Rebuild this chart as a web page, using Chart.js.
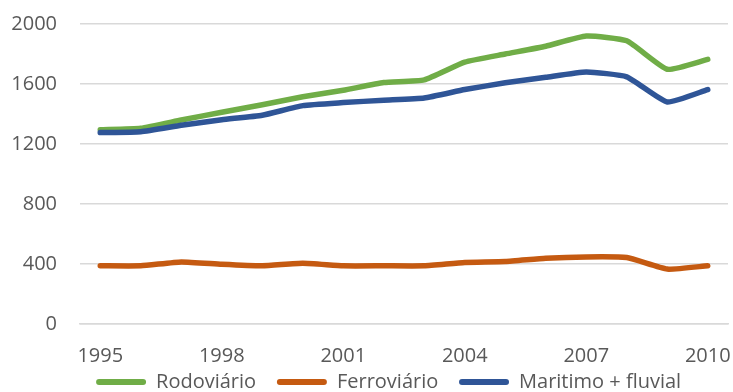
<!DOCTYPE html>
<html>
<head>
<meta charset="utf-8">
<script src="https://cdn.jsdelivr.net/npm/chart.js@4"></script>
<style>
  body { margin: 0; background: #fff; }
  #wrap { width: 733px; height: 392px; }
</style>
</head>
<body>
<div id="wrap"><canvas id="myChart" width="733" height="392"></canvas></div>
<script>
var anos = ['1995', '1996', '1997', '1998', '1999', '2000', '2001', '2002',
            '2003', '2004', '2005', '2006', '2007', '2008', '2009', '2010'];
var rodoviario  = [1295, 1305, 1360, 1412, 1462, 1515, 1558, 1610, 1628, 1746, 1800, 1852, 1920, 1888, 1698, 1764];
var ferroviario = [388, 388, 414, 398, 388, 405, 388, 388, 388, 410, 416, 438, 447, 443, 366, 388];
var maritimo    = [1276, 1282, 1325, 1362, 1392, 1456, 1476, 1492, 1507, 1563, 1608, 1645, 1680, 1648, 1480, 1563];
var yTicks = [0, 400, 800, 1200, 1600, 2000];

var cinza = '#595959';
var fonte = { family: 'Open Sans', size: 20 };

function serie(label, data, cor, ordem) {
  return {
    label: label,
    data: data,
    borderColor: cor,
    backgroundColor: cor,
    borderWidth: 5.5,
    pointRadius: 0,
    tension: 0.15,
    borderCapStyle: 'round',
    borderJoinStyle: 'round',
    order: ordem
  };
}

// legenda: um pouco mais para a direita e para baixo
var legendaDesloca = {
  id: 'legendaDesloca',
  afterLayout: function(c) {
    if (!c.legend) return;
    c.legend.left += 60;
    c.legend.top += 8;
  }
};

var ctx = document.getElementById('myChart').getContext('2d');
var chart = new Chart(ctx, {
  type: 'line',
  data: {
    labels: anos,
    datasets: [
      serie('Rodoviário', rodoviario, '#70AD47', 2),
      serie('Ferroviário', ferroviario, '#C55A11', 1),
      serie('Maritimo + fluvial', maritimo, '#2F5597', 0)
    ]
  },
  plugins: [legendaDesloca],
  options: {
    responsive: false,
    animation: false,
    layout: { padding: { top: 24, right: 5, left: 10, bottom: -2 } },
    plugins: {
      tooltip: { enabled: false },
      legend: {
        position: 'bottom',
        labels: {
          color: cinza,
          font: fonte,
          boxWidth: 50,
          boxHeight: 6,
          padding: 0,
          useBorderRadius: true,
          borderRadius: 3,
          sort: function(a, b) { return a.datasetIndex - b.datasetIndex; },
          generateLabels: function(c) {
            return Chart.defaults.plugins.legend.labels.generateLabels(c).map(function(l) {
              l.lineWidth = 0;
              l.text = l.text + '    ';
              return l;
            });
          }
        }
      }
    },
    scales: {
      x: {
        offset: true,
        grid: { display: false },
        border: { color: '#D9D9D9', width: 1.5 },
        afterFit: function(axis) {
          axis.height = 40;
          axis.paddingLeft = 0;
          axis.paddingRight = 0;
        },
        ticks: {
          color: cinza,
          font: fonte,
          autoSkip: false,
          maxRotation: 0,
          padding: 12,
          callback: function(v, i) { return i % 3 === 0 ? anos[i] : null; }
        }
      },
      y: {
        min: 0,
        max: 2000,
        afterBuildTicks: function(axis) {
          axis.ticks = yTicks.map(function(v) { return { value: v }; });
        },
        afterFit: function(axis) {
          axis.width = 70;
          axis.paddingTop = 0;
          axis.paddingBottom = 0;
        },
        grid: { color: '#D9D9D9', lineWidth: 1.5, drawTicks: false },
        border: { display: false },
        ticks: {
          color: cinza,
          font: fonte,
          padding: 23,
          callback: function(v) { return String(v); }
        }
      }
    }
  }
});
</script>
</body>
</html>
